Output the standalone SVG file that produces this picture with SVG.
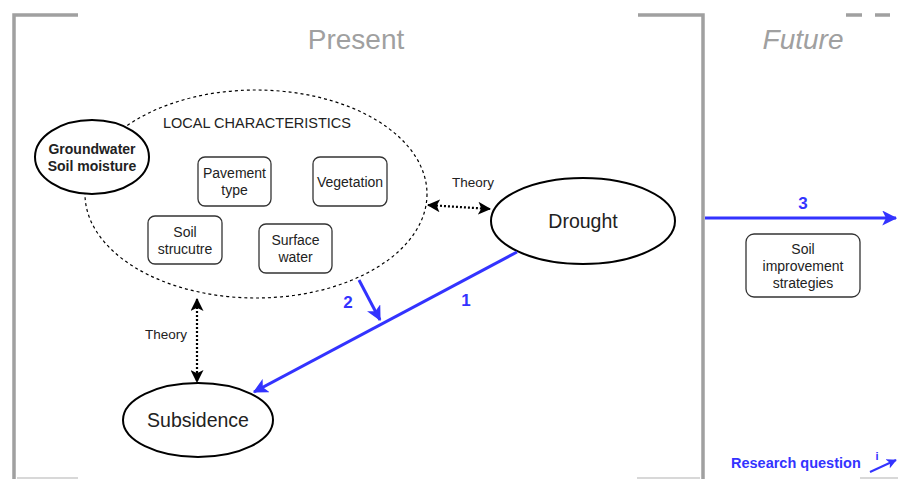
<svg xmlns="http://www.w3.org/2000/svg" width="898" height="479" viewBox="0 0 898 479">
<style>
text{font-family:"Liberation Sans",Arial,sans-serif;}
.frame{fill:none;stroke:#a0a0a0;stroke-width:3.5;}
.thin{fill:none;stroke:#cccccc;stroke-width:1.5;}
.title{font-size:28px;fill:#a0a0a0;text-anchor:middle;}
.node{fill:#fff;stroke:#000;stroke-width:2;}
.box{fill:#fff;stroke:#333;stroke-width:1.3;}
.t12{font-size:14px;fill:#222;text-anchor:middle;}
.t18{font-size:19.5px;fill:#222;text-anchor:middle;}
.blue{stroke:#3333ff;stroke-width:3;fill:none;}
.dot{stroke:#000;stroke-width:2.2;stroke-dasharray:2 2;fill:none;}
.bl{font-size:17px;font-weight:bold;fill:#3333ff;text-anchor:middle;}
.th{font-size:13.5px;fill:#222;text-anchor:middle;}
</style>
<defs>
<marker id="ab" viewBox="0 0 12 12" refX="11" refY="6" markerWidth="15" markerHeight="15" markerUnits="userSpaceOnUse" orient="auto">
<path d="M0,0 L12,6 L0,12 L3,6 z" fill="#3333ff"/>
</marker>
<marker id="abs" viewBox="0 0 12 12" refX="11" refY="6" markerWidth="10" markerHeight="10" markerUnits="userSpaceOnUse" orient="auto">
<path d="M0,0 L12,6 L0,12 L3,6 z" fill="#3333ff"/>
</marker>
<marker id="ak" viewBox="0 0 12 12" refX="11" refY="6" markerWidth="13" markerHeight="13" markerUnits="userSpaceOnUse" orient="auto-start-reverse">
<path d="M0,0 L12,6 L0,12 L3,6 z" fill="#000"/>
</marker>
</defs>

<g id="frames">
<path class="frame" d="M78,15 L14,15 L14,479"/>
<path class="frame" d="M638,15 L703,15 L703,479"/>
<path class="frame" d="M846,15 L862,15 M875,15 L890,15"/>
<path class="thin" d="M17,478 L78,478 M637,478 L700,478 M860,478 L898,478"/>
<text class="title" x="356" y="49">Present</text>
<text class="title" x="803" y="49" font-style="italic">Future</text>
</g>

<g id="local-characteristics">
<ellipse cx="256" cy="194" rx="171" ry="104" fill="none" stroke="#000" stroke-width="1.2" stroke-dasharray="3 3"/>
<text x="257" y="128" style="font-size:14.5px;fill:#222;text-anchor:middle;">LOCAL CHARACTERISTICS</text>
</g>

<g id="groundwater">
<ellipse class="node" cx="92" cy="157" rx="57" ry="37"/>
<text x="92" y="154" style="font-size:14px;font-weight:bold;fill:#222;text-anchor:middle;">Groundwater</text>
<text x="92" y="171" style="font-size:14px;font-weight:bold;fill:#222;text-anchor:middle;">Soil moisture</text>
</g>

<g id="pavement">
<rect class="box" x="198" y="157" width="73" height="49" rx="7"/>
<text class="t12" x="234.5" y="178">Pavement</text>
<text class="t12" x="234.5" y="195">type</text>
</g>
<g id="vegetation">
<rect class="box" x="313" y="157" width="74" height="49" rx="7"/>
<text class="t12" x="350" y="187">Vegetation</text>
</g>
<g id="soil-structure">
<rect class="box" x="148" y="216" width="74" height="48" rx="7"/>
<text class="t12" x="185" y="237">Soil</text>
<text class="t12" x="185" y="254">strucutre</text>
</g>
<g id="surface-water">
<rect class="box" x="259" y="224" width="73" height="49" rx="7"/>
<text class="t12" x="295.5" y="245">Surface</text>
<text class="t12" x="295.5" y="262">water</text>
</g>

<g id="drought">
<ellipse class="node" cx="583" cy="221" rx="92" ry="43"/>
<text class="t18" x="583" y="228">Drought</text>
</g>

<g id="subsidence">
<ellipse class="node" cx="198" cy="420" rx="75" ry="37"/>
<text class="t18" x="198" y="427">Subsidence</text>
</g>

<g id="soil-improvement">
<rect class="box" x="746" y="234" width="114" height="63" rx="8"/>
<text class="t12" x="803" y="254">Soil</text>
<text class="t12" x="803" y="271">improvement</text>
<text class="t12" x="803" y="288">strategies</text>
</g>

<g id="connectors">
<line class="dot" x1="428" y1="205" x2="490" y2="209" marker-start="url(#ak)" marker-end="url(#ak)"/>
<text class="th" x="473" y="187">Theory</text>
<line class="dot" x1="197" y1="299" x2="197" y2="382" marker-start="url(#ak)" marker-end="url(#ak)"/>
<text class="th" x="166" y="339">Theory</text>
<line class="blue" x1="517" y1="252" x2="254" y2="392" marker-end="url(#ab)"/>
<text class="bl" x="466" y="306">1</text>
<line class="blue" x1="359" y1="280" x2="380" y2="320" marker-end="url(#ab)"/>
<text class="bl" x="348" y="308">2</text>
<line class="blue" x1="705" y1="218" x2="896" y2="218" marker-end="url(#ab)"/>
<text class="bl" x="803" y="209">3</text>
</g>

<g id="legend">
<text x="731" y="468" style="font-size:14.5px;font-weight:bold;fill:#3333ff;">Research question</text>
<line x1="870" y1="472" x2="896" y2="460" stroke="#3333ff" stroke-width="2" marker-end="url(#abs)"/>
<text x="877" y="460" style="font-size:11px;font-weight:bold;fill:#3333ff;text-anchor:middle;">i</text>
</g>
</svg>
